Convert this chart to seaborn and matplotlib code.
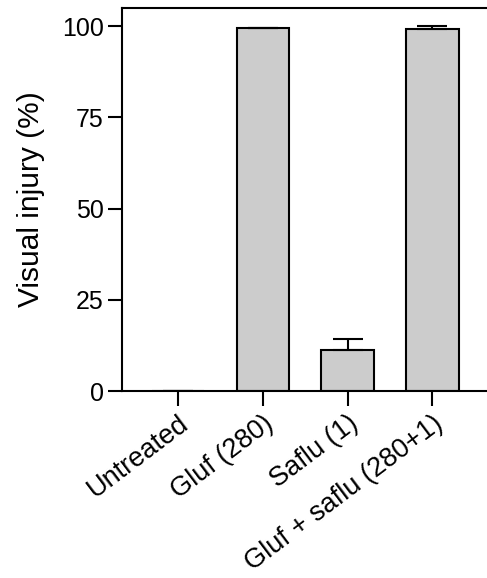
import matplotlib
matplotlib.use("Agg")
import matplotlib.pyplot as plt
import seaborn as sns
import numpy as np
import pandas as pd

# 数据准备
treatments = ["Untreated", "Gluf (280)", "Saflu (1)", "Gluf + saflu (280+1)"]
injury = [0, 99.5, 11.2, 99.3]
injury_err = [0, 0, 3.2, 0.9]

sns.set_style("ticks")
plt.rcParams["font.family"] = ["Liberation Sans", "DejaVu Sans"]
plt.rcParams["text.color"] = "black"
plt.rcParams["axes.labelcolor"] = "black"
plt.rcParams["xtick.color"] = "black"
plt.rcParams["ytick.color"] = "black"

df = pd.DataFrame({"treatment": treatments, "injury": injury})

fig = plt.figure(figsize=(4.87, 5.78), dpi=100)
ax = fig.add_axes([0.2505, 0.3235, 0.749, 0.6625])

sns.barplot(data=df, x="treatment", y="injury", color="#cccccc",
            edgecolor="black", linewidth=1.5, width=0.62, errorbar=None,
            saturation=1, ax=ax)
# 误差棒只画上半部分
ax.errorbar(np.arange(len(treatments)), injury,
            yerr=[np.zeros(len(injury_err)), injury_err],
            fmt="none", ecolor="black", elinewidth=1.5, capsize=10.5,
            capthick=1.5)

ax.set_ylim(0, 105)
ax.set_xlim(-0.66, 3.64)
ax.set_yticks([0, 25, 50, 75, 100])
ax.set_ylabel("Visual injury (%)", fontsize=21.5, labelpad=12)
ax.set_xlabel("")

for s in ["left", "bottom", "top"]:
    ax.spines[s].set_linewidth(1.5)
    ax.spines[s].set_color("black")
ax.spines["right"].set_visible(False)

ax.tick_params(axis="y", length=10, width=1.5, labelsize=18, pad=3,
               colors="black")
ax.tick_params(axis="x", length=11, width=1.5, labelsize=19.5, pad=3,
               colors="black")
plt.setp(ax.get_xticklabels(), rotation=37, ha="right",
         rotation_mode="anchor")

fig.savefig("out.png", dpi=100)
